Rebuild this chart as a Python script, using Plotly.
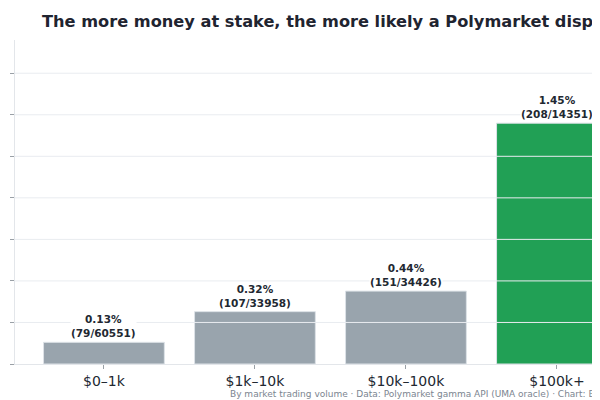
import plotly.graph_objects as go

# volume buckets and dispute counts
buckets = ["$0–1k", "$1k–10k", "$10k–100k", "$100k+"]
disputes = [79, 107, 151, 208]
markets = [60551, 33958, 34426, 14351]
bar_colors = ["#99a4ad", "#99a4ad", "#99a4ad", "#21a055"]
tick_vals = [0, 0.25, 0.5, 0.75, 1.0, 1.25, 1.5, 1.75]
tick_text = ["0.00%", "0.25%", "0.50%", "0.75%", "1.00%", "1.25%", "1.50%", "1.75%"]

rates = [100.0 * d / m for d, m in zip(disputes, markets)]
labels = [f"<b>{r:.2f}%<br>({d}/{m})</b>" for r, d, m in zip(rates, disputes, markets)]

fig = go.Figure(go.Bar(
    x=buckets,
    y=rates,
    marker=dict(color=bar_colors, line=dict(color="#dde2e7", width=1)),
    hoverinfo="skip",
))

# gridlines sit on top of the bars in the original
for v in tick_vals[1:]:
    fig.add_shape(type="line", xref="paper", x0=0, x1=1, yref="y", y0=v, y1=v,
                  line=dict(color="#e9ecf0", width=1), layer="above")

# value labels above bars (white box hides the gridline behind the text)
for b, r, lab in zip(buckets, rates, labels):
    fig.add_annotation(x=b, y=r, text=lab, showarrow=False,
                       xanchor="center", yanchor="bottom", yshift=2,
                       bgcolor="white", borderpad=0,
                       font=dict(size=10.5, color="#222831"))

fig.update_layout(
    width=600, height=392,
    margin=dict(l=7, r=0, t=32, b=36, autoexpand=False),
    paper_bgcolor="white", plot_bgcolor="white",
    font=dict(family="DejaVu Sans", color="#222831"),
    bargap=0.2,
    showlegend=False,
    title=dict(
        text="<b>The more money at stake, the more likely a Polymarket dispute</b>",
        xref="container", x=0.0567, xanchor="left",
        y=0.9668, yanchor="middle",
        font=dict(size=16.2, color="#1f2430"),
        automargin=False,
    ),
    xaxis=dict(
        range=[-0.589, 3.338], automargin=False,
        showline=True, linecolor="#e3e6ea", linewidth=1,
        ticks="outside", ticklen=4, tickcolor="#9aa0a6",
        tickfont=dict(size=14, color="#222831"),
        showgrid=False,
    ),
    yaxis=dict(
        range=[0, 1.95], automargin=False,
        tickmode="array", tickvals=tick_vals, ticktext=tick_text,
        showline=True, linecolor="#e3e6ea", linewidth=1,
        ticks="outside", ticklen=4, tickcolor="#9aa0a6",
        tickfont=dict(size=13, color="#333a40"),
        showgrid=False, zeroline=False,
    ),
)

fig.add_annotation(
    text="By market trading volume · Data: Polymarket gamma API (UMA oracle) · Chart: B",
    xref="paper", yref="paper", x=(220 - 7) / 593, y=-0.0926,
    xanchor="left", yanchor="middle", showarrow=False,
    font=dict(size=9, color="#7b8590"),
)

fig.write_html("out.html")
